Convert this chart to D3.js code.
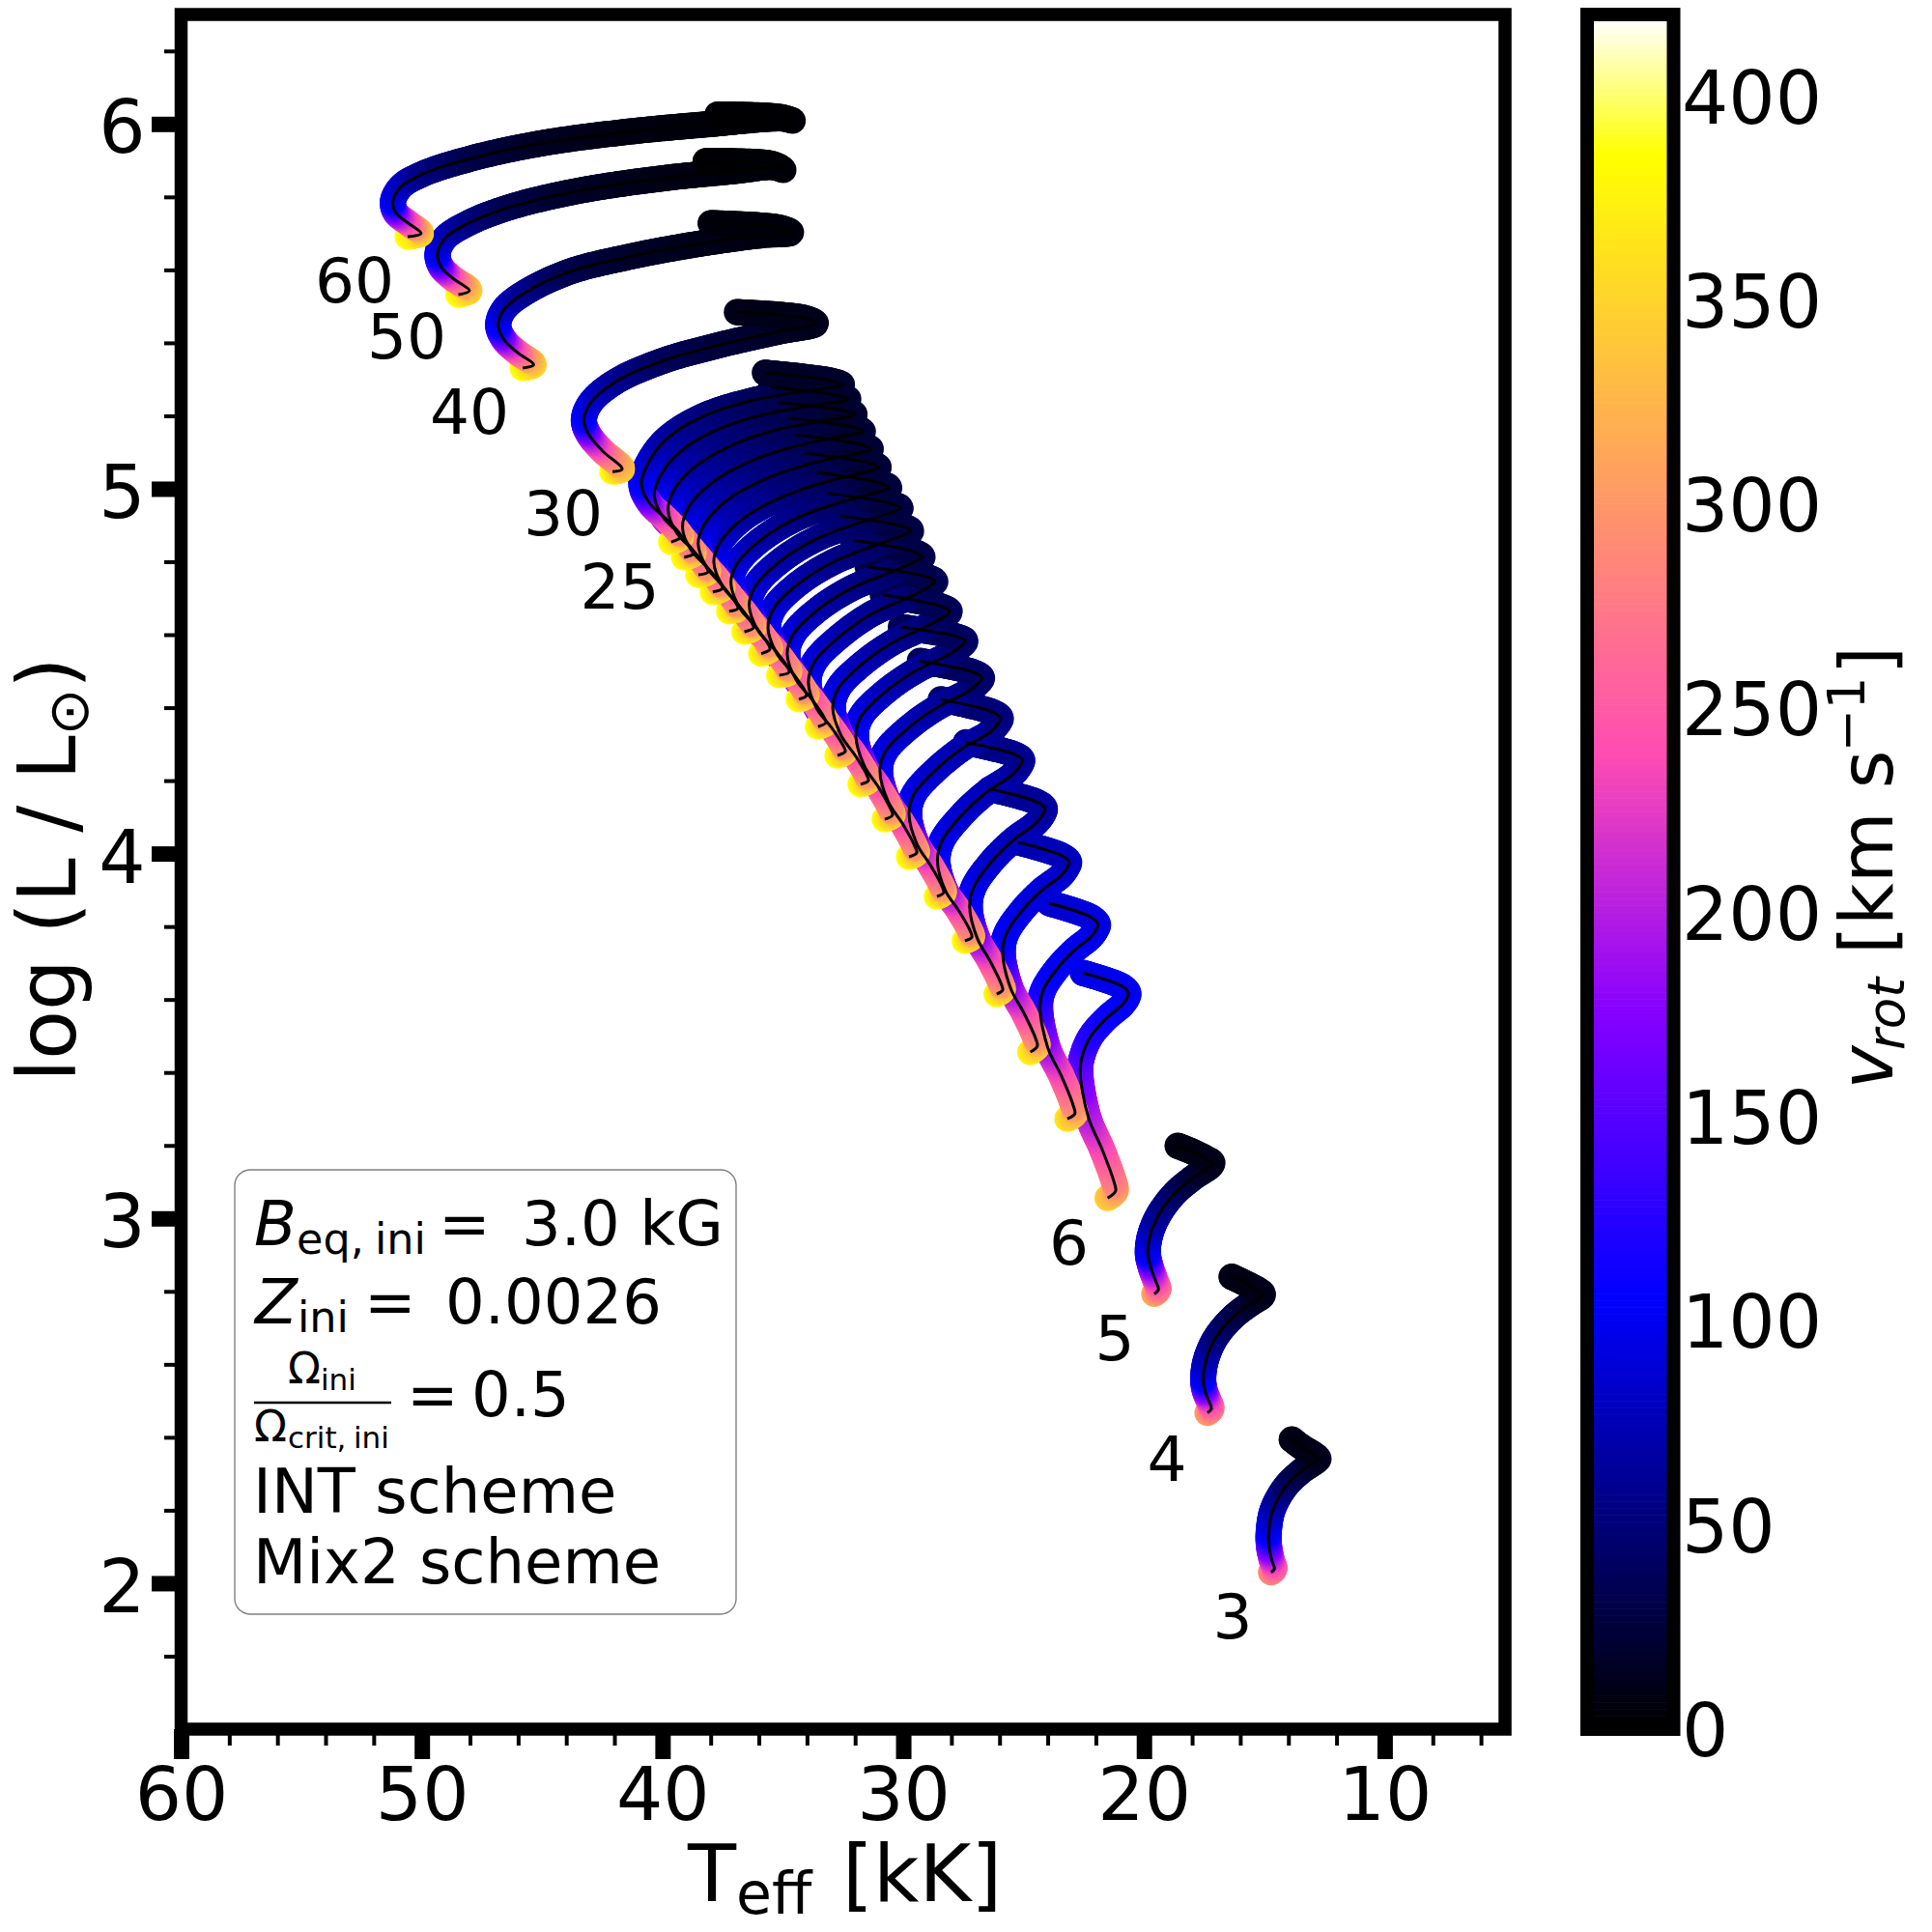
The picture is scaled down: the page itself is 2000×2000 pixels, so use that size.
<!DOCTYPE html>
<html><head><meta charset="utf-8">
<script src="https://cdn.jsdelivr.net/npm/d3@7"></script>
<style>html,body{margin:0;background:#fff}text{font-family:"DejaVu Sans";fill:#000}</style>
</head><body><svg id="c" width="2000" height="2000" xmlns="http://www.w3.org/2000/svg"></svg>
<script>
// Evolutionary tracks: Teff [kK], log L/Lsun, vrot [km/s]
const teff_m3=[14.72,14.58,14.69,14.80,14.82,14.66,14.15,13.48,12.88,12.75,12.88,13.42,13.86];
const logL_m3=[2.030,2.039,2.063,2.099,2.138,2.200,2.262,2.306,2.333,2.341,2.350,2.372,2.394];
const vrot_m3=[290,265,225,170,105,80,50,30,18,14,12,11,9];
const teff_m4=[17.36,17.20,17.34,17.47,17.54,17.43,17.03,16.29,15.49,15.09,15.06,15.29,16.36];
const logL_m4=[2.467,2.478,2.505,2.527,2.558,2.611,2.672,2.730,2.770,2.787,2.793,2.805,2.840];
const vrot_m4=[305,275,230,180,105,80,55,35,20,14,12,11,9];
const teff_m5=[19.57,19.40,19.53,19.74,19.84,19.74,19.37,18.70,17.90,17.23,17.16,17.36,18.03,18.60];
const logL_m5=[2.793,2.805,2.831,2.871,2.906,2.955,3.012,3.070,3.114,3.144,3.153,3.162,3.184,3.199];
const vrot_m5=[315,280,240,175,105,85,65,45,25,15,12,11,10,8];
const teff_m6=[21.51,21.18,21.25,21.74,22.31,22.65,22.57,22.21,21.55,20.91,20.68,20.65,20.91,22.54];
const logL_m6=[3.056,3.075,3.101,3.189,3.277,3.401,3.444,3.499,3.549,3.585,3.607,3.618,3.636,3.673];
const vrot_m6=[345,315,285,245,205,165,150,125,112,106,104,103,100,95];
const teff_m7=[23.18,22.87,22.94,23.42,23.99,24.32,24.20,23.65,22.92,22.20,21.96,21.91,22.19,23.94];
const logL_m7=[3.273,3.287,3.310,3.389,3.467,3.578,3.624,3.681,3.733,3.772,3.795,3.806,3.825,3.864];
const vrot_m7=[365,330,295,250,200,135,118,105,100,98,96,95,92,86];
const teff_m8=[24.72,24.43,24.50,24.98,25.54,25.87,25.73,25.10,24.27,23.44,23.17,23.11,23.41,25.23];
const logL_m8=[3.456,3.472,3.493,3.562,3.631,3.729,3.779,3.841,3.898,3.940,3.965,3.977,3.994,4.031];
const vrot_m8=[375,340,300,250,195,120,105,95,90,87,84,82,79,72];
const teff_m9=[26.12,25.87,25.94,26.39,26.92,27.24,27.08,26.37,25.43,24.49,24.18,24.12,24.44,26.39];
const logL_m9=[3.615,3.626,3.644,3.705,3.767,3.853,3.907,3.975,4.037,4.083,4.110,4.124,4.141,4.177];
const vrot_m9=[380,345,300,255,195,112,100,88,79,74,70,68,65,60];
const teff_m10=[27.44,27.15,27.22,27.69,28.25,28.58,28.40,27.59,26.54,25.48,25.13,25.06,25.39,27.40];
const logL_m10=[3.761,3.771,3.788,3.843,3.899,3.978,4.034,4.104,4.168,4.215,4.243,4.257,4.272,4.305];
const vrot_m10=[385,345,300,255,195,112,100,88,78,70,65,62,59,54];
const teff_m11=[28.60,28.32,28.39,28.87,29.43,29.76,29.57,28.69,27.55,26.41,26.03,25.95,26.30,28.44];
const logL_m11=[3.882,3.893,3.910,3.968,4.026,4.108,4.161,4.227,4.288,4.332,4.359,4.372,4.388,4.423];
const vrot_m11=[385,345,300,255,195,112,100,85,74,65,58,55,52,47];
const teff_m12=[29.76,29.44,29.52,30.02,30.62,30.97,30.76,29.83,28.60,27.32,26.86,26.73,27.09,29.31];
const logL_m12=[3.991,4.002,4.020,4.081,4.142,4.227,4.278,4.342,4.400,4.444,4.469,4.482,4.497,4.528];
const vrot_m12=[385,345,300,255,195,112,98,82,68,57,49,45,43,39];
const teff_m13=[30.77,30.45,30.53,31.03,31.62,31.97,31.74,30.79,29.51,28.15,27.58,27.42,27.80,30.10];
const logL_m13=[4.094,4.105,4.123,4.182,4.241,4.325,4.377,4.441,4.500,4.544,4.570,4.583,4.595,4.621];
const vrot_m13=[385,345,300,255,195,112,98,80,66,54,46,42,40,36];
const teff_m14=[31.77,31.45,31.52,32.01,32.59,32.93,32.69,31.72,30.40,28.95,28.26,28.07,28.46,30.85];
const logL_m14=[4.190,4.200,4.216,4.270,4.325,4.401,4.454,4.519,4.580,4.625,4.651,4.664,4.678,4.709];
const vrot_m14=[385,345,300,255,195,112,97,79,64,51,42,38,36,33];
const teff_m15=[32.73,32.41,32.49,32.99,33.59,33.94,33.70,32.68,31.31,29.72,28.93,28.67,29.06,31.48];
const logL_m15=[4.269,4.280,4.295,4.346,4.397,4.468,4.524,4.593,4.657,4.704,4.732,4.746,4.759,4.786];
const vrot_m15=[385,345,300,255,195,112,96,77,62,49,39,35,33,30];
const teff_m16=[33.54,33.21,33.29,33.82,34.45,34.82,34.57,33.58,32.12,30.44,29.54,29.20,29.60,32.08];
const logL_m16=[4.348,4.359,4.374,4.425,4.476,4.548,4.601,4.667,4.728,4.773,4.800,4.813,4.828,4.859];
const vrot_m16=[385,345,300,255,195,112,95,76,60,46,36,32,30,28];
const teff_m17=[34.34,34.02,34.10,34.63,35.25,35.62,35.38,34.37,32.88,31.16,30.06,29.67,30.08,32.61];
const logL_m17=[4.423,4.433,4.448,4.498,4.548,4.619,4.672,4.739,4.800,4.845,4.872,4.885,4.898,4.926];
const vrot_m17=[385,345,300,255,195,112,95,75,59,45,35,30,29,26];
const teff_m18=[35.15,34.74,34.82,35.37,36.02,36.40,36.15,35.14,33.63,31.81,30.55,30.11,30.53,33.12];
const logL_m18=[4.489,4.497,4.512,4.561,4.610,4.680,4.733,4.800,4.862,4.907,4.934,4.947,4.960,4.987];
const vrot_m18=[385,345,300,255,195,112,95,74,58,44,33,28,27,24];
const teff_m19=[35.90,35.54,35.62,36.16,36.79,37.16,36.90,35.91,34.40,32.55,31.11,30.58,31.00,33.58];
const logL_m19=[4.548,4.560,4.575,4.624,4.673,4.743,4.795,4.860,4.920,4.964,4.990,5.003,5.016,5.045];
const vrot_m19=[385,345,300,255,195,112,94,73,57,43,31,26,25,22];
const teff_m20=[36.60,36.22,36.30,36.85,37.49,37.87,37.63,36.70,35.13,33.21,31.63,31.01,31.44,34.09];
const logL_m20=[4.608,4.619,4.633,4.682,4.731,4.799,4.851,4.916,4.975,5.019,5.045,5.058,5.071,5.098];
const vrot_m20=[385,345,300,255,195,112,94,72,56,41,29,24,23,21];
const teff_m21=[37.23,36.87,36.95,37.50,38.14,38.52,38.27,37.37,35.79,33.85,32.06,31.34,31.78,34.49];
const logL_m21=[4.664,4.672,4.686,4.734,4.782,4.849,4.901,4.966,5.025,5.069,5.095,5.108,5.121,5.148];
const vrot_m21=[385,345,300,255,195,112,94,72,55,40,28,23,22,20];
const teff_m22=[37.91,37.51,37.59,38.14,38.79,39.17,38.95,38.05,36.47,34.45,32.50,31.68,32.11,34.75];
const logL_m22=[4.717,4.727,4.740,4.785,4.829,4.892,4.945,5.011,5.072,5.117,5.144,5.157,5.169,5.193];
const vrot_m22=[385,345,300,255,195,112,94,71,55,40,27,22,21,19];
const teff_m23=[38.51,38.11,38.19,38.74,39.39,39.77,39.54,38.68,37.13,35.11,32.94,32.01,32.45,35.15];
const logL_m23=[4.764,4.772,4.786,4.832,4.877,4.942,4.994,5.059,5.119,5.164,5.190,5.203,5.214,5.236];
const vrot_m23=[385,345,300,255,195,112,94,71,54,39,26,21,20,18];
const teff_m24=[39.10,38.71,38.79,39.33,39.97,40.34,40.10,39.29,37.76,35.67,33.33,32.28,32.73,35.49];
const logL_m24=[4.812,4.822,4.835,4.878,4.921,4.981,5.034,5.100,5.161,5.205,5.232,5.245,5.256,5.278];
const vrot_m24=[385,345,300,255,195,112,93,71,54,39,25,20,19,17];
const teff_m25=[39.64,39.23,39.31,39.86,40.50,40.88,40.63,39.88,38.38,36.13,33.75,32.54,32.99,35.75];
const logL_m25=[4.854,4.868,4.879,4.918,4.957,5.011,5.066,5.134,5.197,5.244,5.271,5.285,5.296,5.318];
const vrot_m25=[385,345,300,255,195,112,93,71,54,39,25,20,19,17];
const teff_m30=[42.08,41.68,42.50,43.06,43.27,42.99,41.94,39.97,37.57,35.18,33.63,34.10,36.91];
const logL_m30=[5.047,5.054,5.104,5.148,5.188,5.236,5.294,5.351,5.395,5.431,5.453,5.468,5.484];
const vrot_m30=[385,340,265,190,112,92,65,40,25,17,13,12,10];
const teff_m40=[45.81,45.35,46.02,46.58,46.83,46.58,45.73,43.91,41.52,38.71,35.89,34.66,35.10,38.00];
const logL_m40=[5.331,5.340,5.373,5.408,5.448,5.492,5.537,5.594,5.634,5.669,5.695,5.702,5.715,5.728];
const vrot_m40=[388,350,270,190,110,88,62,35,20,12,8,7,6,5];
const teff_m50=[48.48,48.02,48.70,49.19,49.35,49.05,48.13,46.44,43.63,40.12,36.87,35.42,34.98,35.42,38.21];
const logL_m50=[5.532,5.543,5.576,5.607,5.643,5.686,5.726,5.770,5.815,5.850,5.872,5.882,5.874,5.890,5.898];
const vrot_m50=[388,350,265,185,105,85,60,35,18,10,6,5,4,4,3];
const teff_m60=[50.59,50.03,50.52,51.09,51.20,50.87,49.96,47.86,45.03,41.52,37.99,35.02,34.59,35.10,37.71];
const logL_m60=[5.691,5.700,5.726,5.757,5.788,5.828,5.863,5.907,5.947,5.978,6.000,6.015,6.009,6.019,6.026];
const vrot_m60=[388,350,265,185,105,85,58,32,16,8,5,4,4,3,3];

const tracks=[[teff_m3,logL_m3,vrot_m3],[teff_m4,logL_m4,vrot_m4],[teff_m5,logL_m5,vrot_m5],[teff_m6,logL_m6,vrot_m6],
[teff_m7,logL_m7,vrot_m7],[teff_m8,logL_m8,vrot_m8],[teff_m9,logL_m9,vrot_m9],[teff_m10,logL_m10,vrot_m10],
[teff_m11,logL_m11,vrot_m11],[teff_m12,logL_m12,vrot_m12],[teff_m13,logL_m13,vrot_m13],[teff_m14,logL_m14,vrot_m14],
[teff_m15,logL_m15,vrot_m15],[teff_m16,logL_m16,vrot_m16],[teff_m17,logL_m17,vrot_m17],[teff_m18,logL_m18,vrot_m18],
[teff_m19,logL_m19,vrot_m19],[teff_m20,logL_m20,vrot_m20],[teff_m21,logL_m21,vrot_m21],[teff_m22,logL_m22,vrot_m22],
[teff_m23,logL_m23,vrot_m23],[teff_m24,logL_m24,vrot_m24],[teff_m25,logL_m25,vrot_m25],[teff_m30,logL_m30,vrot_m30],
[teff_m40,logL_m40,vrot_m40],[teff_m50,logL_m50,vrot_m50],[teff_m60,logL_m60,vrot_m60]];

const xMajor=[60,50,40,30,20,10];
const xMinor=[58,56,54,52,48,46,44,42,38,36,34,32,28,26,24,22,18,16,14,12,8,6];
const yMajor=[2,3,4,5,6];
const yMinor=[1.8,2.2,2.4,2.6,2.8,3.2,3.4,3.6,3.8,4.2,4.4,4.6,4.8,5.2,5.4,5.6,5.8,6.2];
const cbTicks=[0,50,100,150,200,250,300,350,400];
const massLabels=["60","50","40","30","25","6","5","4","3"];

const W={l:187.5,r:1558,t:15,b:1790};
const CB={l:1643,r:1732.5};
const VMAX=420;
const TUBE_R=13.6;
const x=d3.scaleLinear().domain([60,5]).range([W.l,W.r]);
const y=d3.scaleLinear().domain([1.6,6.3]).range([W.b,W.t]);
const vS=d3.scaleLinear().domain([0,VMAX]).range([W.b,W.t]);

function gnuplot2(t){
  t=Math.min(255,Math.floor(t*256))/255;
  const c=v=>Math.round(255*Math.max(0,Math.min(1,v)));
  const b=t<0.25?4*t:(t<0.92?-2*t+1.84:t/0.08-11.5);
  return `rgb(${c(t/0.32-0.78125)},${c(2*t-0.84)},${c(b)})`;
}

const svg=d3.select("#c");
svg.append("rect").attr("width",2000).attr("height",2000).attr("fill","#fff");

// tracks
const gThick=svg.append("g"), gThin=svg.append("g");
const lineGen=d3.line().curve(d3.curveCatmullRom.alpha(0.5));
tracks.forEach(([t,l,v])=>{
  const knots=t.map((d,i)=>[x(d),y(l[i])]);
  const path=gThin.append("path").attr("d",lineGen(knots)).attr("fill","none").attr("stroke","#000").attr("stroke-width",3);
  const node=path.node(), len=node.getTotalLength();
  const pts=d3.range(0,len+1,1).map(s=>{const p=node.getPointAtLength(Math.min(s,len));return [p.x,p.y,Math.min(s,len)];});
  // arc length at each knot, to carry vrot along the curve
  const at=[0]; let from=0;
  for(let k=1;k<knots.length;k++){
    let best=1e9,bi=from;
    for(let j=from;j<pts.length;j++){
      const d=Math.hypot(pts[j][0]-knots[k][0],pts[j][1]-knots[k][1]);
      if(d<best){best=d;bi=j;}
      if(best<1.5&&d>best+3)break;
    }
    at.push(pts[bi][2]); from=bi;
  }
  at[at.length-1]=len;
  const vOf=d3.scaleLinear().domain(at).range(v).clamp(true);
  const step=pts.filter((p,i)=>i%2===0||i===pts.length-1);
  gThick.append("g").selectAll("circle").data(step).join("circle")
    .attr("cx",d=>d[0]).attr("cy",d=>d[1]).attr("r",TUBE_R)
    .attr("fill",d=>gnuplot2(vOf(d[2])/VMAX));
});

// main axes
const ax=svg.append("g");
function styleAxis(g,w){g.select(".domain").remove();g.selectAll("line").attr("stroke","#000").attr("stroke-width",w);}
const fmt=d3.format("d");
ax.append("g").attr("transform",`translate(0,${W.b})`)
  .call(d3.axisBottom(x).tickValues(xMinor).tickSize(17).tickFormat("")).call(styleAxis,4);
ax.append("g").attr("transform",`translate(0,${W.b})`)
  .call(d3.axisBottom(x).tickValues(xMajor).tickSize(31).tickPadding(8.7).tickFormat(fmt)).call(styleAxis,16)
  .call(g=>g.selectAll("text").attr("font-size",76).attr("font-family","DejaVu Sans").attr("fill","#000"));
ax.append("g").attr("transform",`translate(${W.l},0)`)
  .call(d3.axisLeft(y).tickValues(yMinor).tickSize(17.5).tickFormat("")).call(styleAxis,4);
ax.append("g").attr("transform",`translate(${W.l},0)`)
  .call(d3.axisLeft(y).tickValues(yMajor).tickSize(30.5).tickPadding(6.5).tickFormat(fmt)).call(styleAxis,16)
  .call(g=>g.selectAll("text").attr("font-size",76).attr("font-family","DejaVu Sans").attr("fill","#000").attr("dy","0.39em"));
ax.append("rect").attr("x",W.l).attr("y",W.t).attr("width",W.r-W.l).attr("height",W.b-W.t)
  .attr("fill","none").attr("stroke","#000").attr("stroke-width",13.5);

// colour bar
const levels=d3.range(256);
svg.append("g").selectAll("rect").data(levels).join("rect")
  .attr("x",CB.l).attr("width",CB.r-CB.l)
  .attr("y",d=>vS((d+1)/256*VMAX)).attr("height",d=>vS(d/256*VMAX)-vS((d+1)/256*VMAX)+0.6)
  .attr("fill",d=>gnuplot2((d+0.5)/256));
svg.append("rect").attr("x",CB.l).attr("y",W.t).attr("width",CB.r-CB.l).attr("height",W.b-W.t)
  .attr("fill","none").attr("stroke","#000").attr("stroke-width",14);
svg.append("g").selectAll("text").data(cbTicks).join("text")
  .attr("x",1741).attr("y",d=>vS(d)+28).attr("font-size",76).text(d=>d);

// axis titles
const xt=svg.append("text").attr("x",712).attr("y",1968).attr("font-size",82);
xt.append("tspan").text("T");
xt.append("tspan").attr("font-size",60).attr("dy",13).text("eff");
xt.append("tspan").attr("dy",-13).attr("x",872).text("[kK]");

const yt=svg.append("text").attr("transform","translate(78,900) rotate(-90)").attr("text-anchor","middle").attr("font-size",83);
yt.append("tspan").text("log (L / L");
yt.append("tspan").attr("font-size",58).attr("dy",13).text("⊙");
yt.append("tspan").attr("dy",-13).text(")");

const putR=(bx,py,s,fs,st)=>svg.append("text").attr("transform",`translate(${bx},${py}) rotate(-90)`)
  .attr("font-size",fs).attr("font-style",st||"normal").text(s);
putR(1958.7,1127.5,"v",76,"italic");
putR(1971,1087,"rot",53,"italic");
putR(1958.7,988,"[km s",76);
putR(1930,778.6,"−1",53);
putR(1958.7,698.4,"]",76);

// mass labels
const labelPos=[[367,289.5],[421,347.5],[486,425.5],[583,530.5],[641.5,606.5],[1106.5,1285],[1154,1384],[1208,1509],[1276,1672]];
svg.append("g").selectAll("text").data(massLabels).join("text")
  .attr("x",(d,i)=>labelPos[i][0]).attr("y",(d,i)=>labelPos[i][1]+23.5)
  .attr("text-anchor","middle").attr("font-size",64.5).text(d=>d);

// annotation box
svg.append("rect").attr("x",243).attr("y",1211).attr("width",519).attr("height",460).attr("rx",16).attr("ry",16)
  .attr("fill","#fff").attr("fill-opacity",0.8).attr("stroke","#808080").attr("stroke-width",1.4);
const box=svg.append("g").attr("font-size",64);
const put=(px,py,s,fs,st)=>box.append("text").attr("x",px).attr("y",py).attr("font-size",fs||64).attr("font-style",st||"normal").text(s);
put(263,1289,"B",64,"italic"); put(307,1298,"eq,",44.5); put(388,1298,"ini",44.5); put(454,1289,"="); put(540,1289,"3.0 kG");
put(264,1370,"Z",64,"italic"); put(308,1379,"ini",44.5); put(377,1370,"="); put(461,1370,"0.0026");
put(298,1432,"Ω",44.5); put(332,1439,"ini",31);
box.append("line").attr("x1",263).attr("x2",405).attr("y1",1452).attr("y2",1452).attr("stroke","#000").attr("stroke-width",2.6);
put(263,1492,"Ω",44.5); put(298,1499,"crit,",31); put(366,1499,"ini",31);
put(421,1466,"="); put(488,1466,"0.5");
put(262,1566,"INT scheme"); put(262,1639,"Mix2 scheme");
</script></body></html>
